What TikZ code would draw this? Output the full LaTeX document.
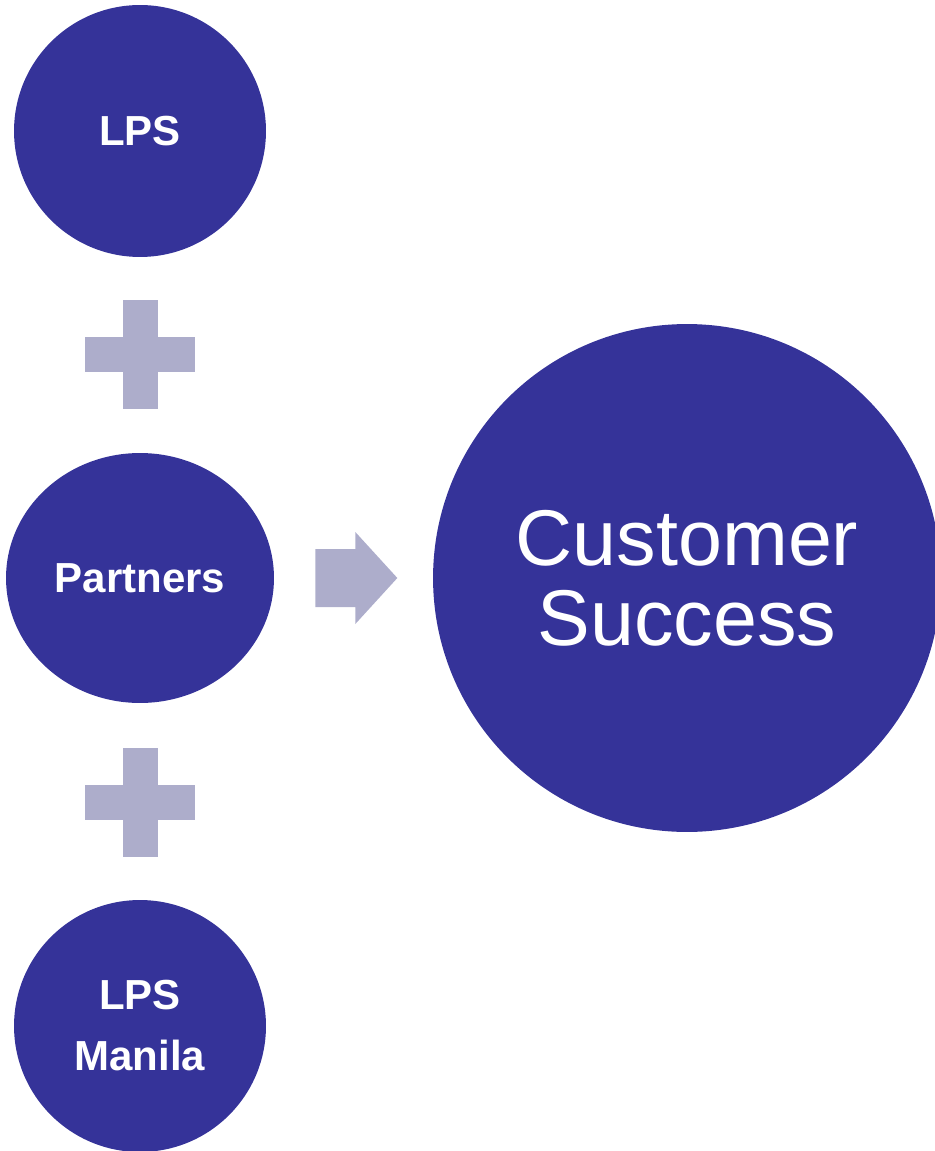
\documentclass[tikz,border=0pt]{standalone}
\usepackage{fontspec}
\setmainfont{Liberation Sans}
\usetikzlibrary{shapes.geometric, calc}
\definecolor{indigo}{HTML}{353399}
\definecolor{lilac}{HTML}{ADADCB}
\begin{document}
\begin{tikzpicture}[
  x=0.02cm, y=-0.02cm,
  blob/.style={circle, fill=indigo, text=white, inner sep=0pt,
               minimum size=5.04cm, align=center,
               font=\fontsize{23.9}{34.7}\selectfont\bfseries},
  oval/.style={blob, ellipse, minimum width=5.36cm, minimum height=5cm},
  goal/.style={blob, minimum size=10.16cm,
               font=\fontsize{45}{45.5}\selectfont},
  plus/.style={fill=lilac},
]
\useasboundingbox (0,0) rectangle (934,1151);
% ---------------- left column
\node[blob] (lps) at (140,131) {LPS};
\node[oval] (ptn) at (140,578) {Partners};
\node[blob] (mnl) at (140,1026) {LPS\\Manila};
% ---------------- right
\node[goal] (cs) at (687,578) {Customer\\Success};
% ---------------- plus signs
\coordinate (p1) at ($(lps)!0.5!(ptn)$);
\coordinate (p2) at ($(ptn)!0.5!(mnl)$);
\foreach \p in {p1,p2} {
  \fill[plus] (\p) ++(-17.5,-54.5) rectangle ++(35,109);
  \fill[plus] (\p) ++(-55,-17.5) rectangle ++(110,35);
}
% ---------------- block arrow
\fill[plus] (ptn.east) ++(41,-29) -- ++(40,0) -- ++(0,-17) -- ++(42,46)
  -- ++(-42,46) -- ++(0,-17) -- ++(-40,0) -- cycle;
\end{tikzpicture}
\end{document}
